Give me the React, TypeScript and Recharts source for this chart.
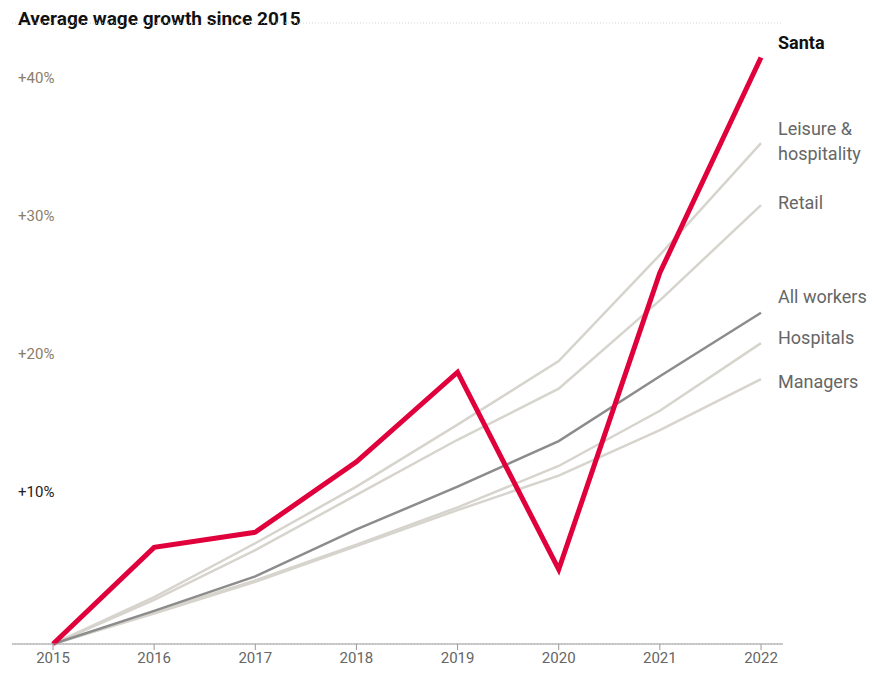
import { LineChart, Line, XAxis, YAxis, CartesianGrid, ReferenceLine } from 'recharts'

const years = ['2015', '2016', '2017', '2018', '2019', '2020', '2021', '2022']
const santa = [0, 7.0, 8.1, 13.2, 19.7, 5.4, 26.9, 42.5]
const allWorkers = [0, 2.4, 4.9, 8.3, 11.4, 14.7, 19.4, 24.0]
const leisure = [0, 3.4, 7.3, 11.4, 15.9, 20.5, 28.2, 36.3]
const retail = [0, 3.2, 6.8, 10.8, 14.8, 18.5, 24.9, 31.8]
const hospitals = [0, 2.3, 4.6, 7.2, 9.9, 12.9, 16.9, 21.8]
const managers = [0, 2.2, 4.5, 7.1, 9.7, 12.2, 15.5, 19.2]
const yTicks = [10, 20, 30, 40]

const data = years.map((year, i) => ({
  year,
  santa: santa[i],
  allWorkers: allWorkers[i],
  leisure: leisure[i],
  retail: retail[i],
  hospitals: hospitals[i],
  managers: managers[i],
}))

const series = [
  { key: 'managers', label: ['Managers'], color: '#d6d4cd', width: 2.5, dy: 4 },
  { key: 'hospitals', label: ['Hospitals'], color: '#d6d4cd', width: 2.5, dy: -4 },
  { key: 'retail', label: ['Retail'], color: '#d6d4cd', width: 2.5, dy: -1 },
  { key: 'leisure', label: ['Leisure &', 'hospitality'], color: '#d6d4cd', width: 2.5, dy: -13 },
  { key: 'allWorkers', label: ['All workers'], color: '#8c8c8c', width: 2.5, dy: -15 },
  { key: 'santa', label: ['Santa'], color: '#e0003c', width: 5, dy: -14 },
]

const font = 'Roboto, "Liberation Sans", sans-serif'

function endLabel(s: (typeof series)[number]) {
  return (props: any) => {
    if (props.index !== years.length - 1) return null
    const isSanta = s.key === 'santa'
    return (
      <text
        x={props.x + 17}
        y={props.y + s.dy}
        fontSize={18}
        fontFamily={font}
        fontWeight={isSanta ? 700 : 400}
        fill={isSanta ? '#111' : '#666'}
        dominantBaseline="middle"
      >
        {s.label.map((t, i) => (
          <tspan key={t} x={props.x + 17} dy={i === 0 ? 0 : 25}>
            {t}
          </tspan>
        ))}
      </text>
    )
  }
}

function tickLabel(v: number) {
  return (props: any) => (
    <text x={18} y={props.viewBox.y - 9} fontSize={15} fontFamily={font} fill={v === 10 ? '#222' : '#8a7d6a'}>
      +{v}%
    </text>
  )
}

export default function App() {
  return (
    <div style={{ position: 'absolute', left: 0, top: 0, width: 874, height: 678, background: '#fff' }}>
      <div
        style={{
          position: 'absolute',
          left: 18,
          top: 7,
          fontFamily: font,
          fontWeight: 700,
          fontSize: 19,
          color: '#111',
        }}
      >
        Average wage growth since 2015
      </div>
      <LineChart width={874} height={678} data={data} margin={{ top: 23, right: 91, bottom: 0, left: 12 }}>
        <CartesianGrid vertical={false} strokeDasharray="1 2" stroke="#d8d8d8" />
        <XAxis
          dataKey="year"
          padding={{ left: 41, right: 22 }}
          height={34}
          tick={{ fontSize: 15, fill: '#666', fontFamily: font }}
          tickLine={{ stroke: '#999' }}
          axisLine={{ stroke: '#999' }}
          tickSize={6}
        />
        <YAxis domain={[0, 45]} ticks={yTicks} width={0} tick={false} axisLine={false} tickLine={false} />
        {yTicks.map((v) => (
          <ReferenceLine key={v} y={v} stroke="none" label={tickLabel(v)} />
        ))}
        {series.map((s) => (
          <Line
            key={s.key}
            dataKey={s.key}
            stroke={s.color}
            strokeWidth={s.width}
            dot={false}
            isAnimationActive={false}
            label={endLabel(s)}
          />
        ))}
      </LineChart>
    </div>
  )
}
